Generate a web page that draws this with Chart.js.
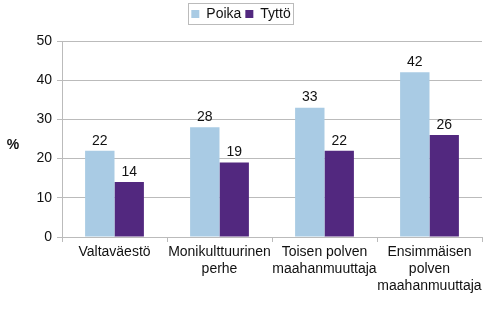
<!DOCTYPE html>
<html><head><meta charset="utf-8">
<script src="https://cdn.jsdelivr.net/npm/chart.js@4"></script>
<style>html,body{margin:0;padding:0;background:#fff}#w{width:495px;height:322px}</style>
</head><body><div id="w"><canvas id="c" width="495" height="322"></canvas></div>
<script>
const categories = [["Valtaväestö"], ["Monikulttuurinen","perhe"], ["Toisen polven","maahanmuuttaja"], ["Ensimmäisen","polven","maahanmuuttaja"]];
const poika = [22, 28, 33, 42];
const tytto = [14, 19, 22, 26];
const yTicks = [0, 10, 20, 30, 40, 50];
const seriesNames = ["Poika", "Tyttö"];

const FONT = "'Liberation Sans', Arial, sans-serif";

const legendMargin = {
  id: 'legendMargin',
  beforeInit(chart) {
    const L = chart.legend;
    const fit = L.fit;
    L.fit = function () { fit.call(this); this.height += 10; };
  }
};

const labelPlugin = {
  id: 'labels',
  afterDatasetsDraw(chart) {
    const ctx = chart.ctx;
    ctx.save();
    ctx.font = "14px " + FONT;
    ctx.fillStyle = "#111";
    ctx.textAlign = "center";
    ctx.textBaseline = "bottom";
    chart.data.datasets.forEach((ds, i) => {
      chart.getDatasetMeta(i).data.forEach((bar, j) => {
        ctx.fillText(String(ds.data[j]), bar.x, bar.y - 3);
      });
    });
    ctx.font = "bold 14px " + FONT;
    ctx.textAlign = "center";
    ctx.textBaseline = "middle";
    ctx.fillText("%", 13, 145);
    const L = chart.legend;
    if (L && L.legendHitBoxes && L.legendHitBoxes.length) {
      const hb = L.legendHitBoxes;
      const x0 = Math.min(...hb.map(b => b.left)) - 3;
      const x1 = Math.max(...hb.map(b => b.left + b.width)) + 3;
      const y0 = Math.min(...hb.map(b => b.top)) - 4;
      const y1 = Math.max(...hb.map(b => b.top + b.height)) + 3;
      ctx.strokeStyle = "#bbb";
      ctx.lineWidth = 1;
      ctx.strokeRect(Math.round(x0) + 0.5, Math.round(y0) + 0.5, Math.round(x1 - x0), Math.round(y1 - y0));
    }
    ctx.restore();
  }
};

new Chart(document.getElementById('c'), {
  type: 'bar',
  data: {
    labels: categories,
    datasets: [
      { label: seriesNames[0], data: poika, backgroundColor: '#a9cbe4' },
      { label: seriesNames[1], data: tytto, backgroundColor: '#52287f' }
    ]
  },
  options: {
    responsive: false,
    animation: false,
    devicePixelRatio: 1,
    layout: { padding: { left: 0, right: 13, top: 3, bottom: 0 } },
    datasets: { bar: { categoryPercentage: 0.56, barPercentage: 1.0 } },
    plugins: {
      legend: {
        position: 'top',
        labels: {
          font: { family: FONT, size: 14 },
          color: '#111',
          boxWidth: 8, boxHeight: 8,
          padding: 4
        }
      },
      tooltip: { enabled: false }
    },
    scales: {
      x: {
        grid: { drawOnChartArea: false, drawTicks: true, tickLength: 5, color: '#bbb', offset: true },
        border: { color: '#bbb' },
        ticks: { font: { family: FONT, size: 14, lineHeight: 1.2 }, color: '#111', maxRotation: 0, autoSkip: false, padding: 2 },
        afterFit(s) { s.height = 85; }
      },
      y: {
        min: 0, max: 50,
        afterBuildTicks(s) { s.ticks = yTicks.map(v => ({ value: v })); },
        grid: { color: '#bbb', tickLength: 5 },
        border: { color: '#bbb' },
        ticks: { font: { family: FONT, size: 14 }, color: '#111', padding: 5 },
        afterFit(s) { s.width = 62; }
      }
    }
  },
  plugins: [legendMargin, labelPlugin]
});
</script></body></html>
